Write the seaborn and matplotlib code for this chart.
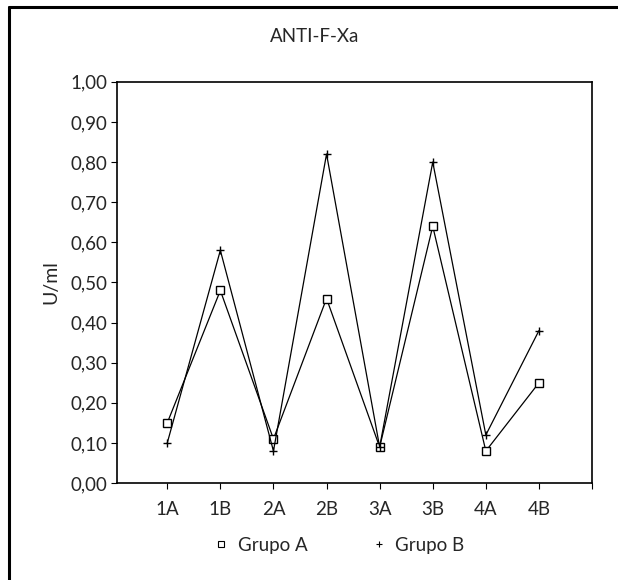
import pandas as pd
import numpy as np
import matplotlib
matplotlib.use('Agg')
import matplotlib.pyplot as plt
from matplotlib.lines import Line2D
import seaborn as sns

categorias = ['1A', '1B', '2A', '2B', '3A', '3B', '4A', '4B']
grupo_a = [0.15, 0.48, 0.11, 0.46, 0.09, 0.64, 0.08, 0.25]
grupo_b = [0.10, 0.58, 0.08, 0.82, 0.09, 0.80, 0.12, 0.38]
y_ticks = [0.0, 0.1, 0.2, 0.3, 0.4, 0.5, 0.6, 0.7, 0.8, 0.9, 1.0]

sns.set_style('ticks')
plt.rcParams['font.family'] = ['Lato', 'DejaVu Sans']

df_a = pd.DataFrame({'muestra': categorias, 'valor': grupo_a})
df_b = pd.DataFrame({'muestra': categorias, 'valor': grupo_b})

fig = plt.figure(figsize=(6.18, 5.8), dpi=100)
ax = fig.add_axes([0.189, 0.167, 0.769, 0.692])

sns.lineplot(data=df_a, x='muestra', y='valor', ax=ax, color='black', lw=0.9,
             marker='s', markersize=5.5, markerfacecolor='white',
             markeredgecolor='black', markeredgewidth=1)
sns.lineplot(data=df_b, x='muestra', y='valor', ax=ax, color='black', lw=0.9,
             marker='+', markersize=6, markeredgecolor='black', markeredgewidth=1)

ax.set_ylim(0, 1)
ax.set_yticks(y_ticks)
ax.set_yticklabels([f'{v:.2f}'.replace('.', ',') for v in y_ticks], fontsize=13.5)
ax.set_xlim(-0.95, 8.0)
ax.set_xticks(range(len(categorias) + 1))
ax.set_xticklabels(categorias + [''], fontsize=13.5)
ax.tick_params(axis='both', length=4, width=0.8, color='black', pad=3)
ax.tick_params(axis='x', pad=9)
ax.set_xlabel('')
ax.set_ylabel('U/ml', fontsize=14, labelpad=8)
for s in ax.spines.values():
    s.set_linewidth(1.2)
    s.set_color('black')

fig.text(315 / 618, 1 - 37 / 580, 'ANTI-F-Xa', ha='center', va='center', fontsize=13.5)

##legend below the axes
handles = [Line2D([], [], ls='none', marker='s', ms=4, mfc='white', mec='black', mew=0.8),
           Line2D([], [], ls='none', marker='+', ms=5, mec='black', mew=0.8)]
fig.legend(handles, ['Grupo A', 'Grupo B'], loc='center', ncol=2, frameon=False,
           bbox_to_anchor=(337 / 618, 1 - 545 / 580), fontsize=13.5,
           handletextpad=0.3, columnspacing=3.2, handlelength=1.2)

##outer frame (top and left borders of scan)
fig.add_artist(Line2D([9 / 618, 1], [1 - 7 / 580, 1 - 7 / 580], color='black', lw=2.2))
fig.add_artist(Line2D([9 / 618, 9 / 618], [0, 1 - 7 / 580], color='black', lw=2.2))

fig.savefig('out.png', dpi=100)
